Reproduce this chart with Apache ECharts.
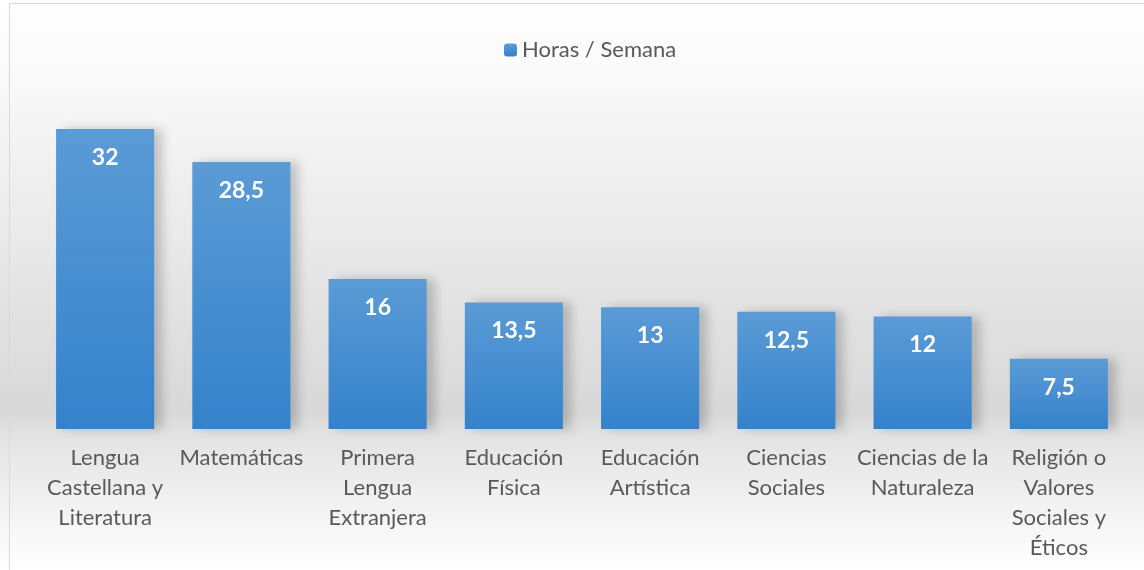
<!DOCTYPE html>
<html>
<head>
<meta charset="utf-8">
<script src="https://cdn.jsdelivr.net/npm/echarts@6/dist/echarts.min.js"></script>
<style>
  html, body { margin: 0; padding: 0; background: #fff; }
  #chart { width: 1144px; height: 570px; }
</style>
</head>
<body>
<div id="chart"></div>
<script>
var asignaturas = [
  'Lengua\nCastellana y\nLiteratura',
  'Matemáticas',
  'Primera\nLengua\nExtranjera',
  'Educación\nFísica',
  'Educación\nArtística',
  'Ciencias\nSociales',
  'Ciencias de la\nNaturaleza',
  'Religión o\nValores\nSociales y\nÉticos'
];
var horas = [32, 28.5, 16, 13.5, 13, 12.5, 12, 7.5];
var serieNombre = 'Horas / Semana';

var font = 'Lato, "Open Sans", sans-serif';

var chart = echarts.init(document.getElementById('chart'));
chart.setOption({
  backgroundColor: {
    type: 'linear', x: 0, y: 0, x2: 0, y2: 1,
    colorStops: [
      { offset: 0, color: '#ffffff' },
      { offset: 0.12, color: '#fafafa' },
      { offset: 0.3, color: '#f0f0f0' },
      { offset: 0.72, color: '#d8d8d8' },
      { offset: 0.77, color: '#e4e4e4' },
      { offset: 1, color: '#ffffff' }
    ]
  },
  animation: false,
  graphic: [{
    type: 'rect', left: 7, top: 1,
    shape: { width: 1135, height: 580 },
    style: { fill: 'none', stroke: '#d9d9d9', lineWidth: 1 },
    silent: true
  }],
  legend: {
    top: 34, left: 499,
    itemWidth: 13, itemHeight: 13, itemGap: 6,
    textStyle: { color: '#595959', fontSize: 22, fontFamily: font },
    data: [serieNombre]
  },
  grid: { left: 37, right: 17, top: 101, bottom: 141 },
  xAxis: {
    type: 'category',
    data: asignaturas,
    axisLine: { show: false },
    axisTick: { show: false },
    axisLabel: {
      color: '#595959', fontSize: 22, lineHeight: 30, margin: 14,
      fontFamily: font, interval: 0
    }
  },
  yAxis: {
    type: 'value', min: 0, max: 35, show: false,
    splitLine: { show: false }
  },
  series: [{
    name: serieNombre,
    type: 'bar',
    data: horas,
    barWidth: '72%',
    itemStyle: {
      color: {
        type: 'linear', x: 0, y: 0, x2: 0, y2: 1,
        colorStops: [
          { offset: 0, color: '#5b9bd6' },
          { offset: 1, color: '#3482cb' }
        ]
      },
      shadowColor: 'rgba(0,0,0,0.2)', shadowBlur: 10, shadowOffsetX: 8, shadowOffsetY: 0
    },
    label: {
      show: true, position: 'insideTop', distance: 17,
      color: '#ffffff', fontSize: 23, fontWeight: 'bold', fontFamily: font,
      formatter: function (p) { return String(p.value).replace('.', ','); }
    }
  }]
});
</script>
</body>
</html>
